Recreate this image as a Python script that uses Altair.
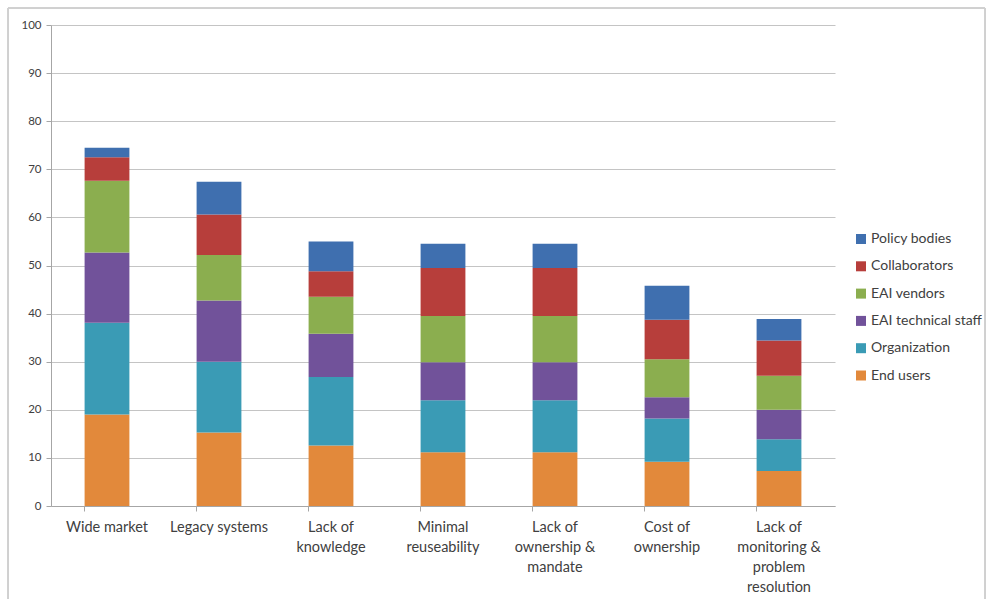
import altair as alt
import pandas as pd

categories = [
    "Wide market",
    "Legacy systems",
    "Lack of\nknowledge",
    "Minimal\nreuseability",
    "Lack of\nownership &\nmandate",
    "Cost of\nownership",
    "Lack of\nmonitoring &\nproblem\nresolution",
]

# series listed bottom-to-top of each stack
series = ["End users", "Organization", "EAI technical staff", "EAI vendors", "Collaborators", "Policy bodies"]

end_users = [19.0, 15.3, 12.6, 11.2, 11.2, 9.2, 7.3]
organization = [19.1, 14.7, 14.2, 10.8, 10.8, 9.0, 6.6]
eai_technical_staff = [14.6, 12.7, 9.0, 7.9, 7.9, 4.4, 6.1]
eai_vendors = [14.9, 9.5, 7.7, 9.6, 9.6, 7.9, 7.1]
collaborators = [4.9, 8.4, 5.3, 10.0, 10.0, 8.2, 7.3]
policy_bodies = [2.0, 6.8, 6.2, 5.0, 5.0, 7.1, 4.5]

colors = {
    "Policy bodies": "#3F6FAF",
    "Collaborators": "#B73E3B",
    "EAI vendors": "#8BAE4F",
    "EAI technical staff": "#71529A",
    "Organization": "#3A9BB5",
    "End users": "#E2893B",
}

y_ticks = [0, 10, 20, 30, 40, 50, 60, 70, 80, 90, 100]

values = [end_users, organization, eai_technical_staff, eai_vendors, collaborators, policy_bodies]
rows = []
for si, (s, vals) in enumerate(zip(series, values)):
    for c, v in zip(categories, vals):
        rows.append({"category": c, "series": s, "value": v, "order": si})
df = pd.DataFrame(rows)

legend_order = list(reversed(series))

font = "Lato"

bars = alt.Chart(df).mark_bar().encode(
    x=alt.X(
        "category:N",
        sort=categories,
        title=None,
        scale=alt.Scale(paddingInner=0.6, paddingOuter=0.3),
        axis=alt.Axis(
            labelAngle=0,
            labelExpr="split(datum.label, '\\n')",
            labelFont=font,
            labelFontSize=14.5,
            labelColor="#404040",
            labelPadding=9,
            labelLineHeight=20,
            labelBaseline="top",
            domainColor="#a6a6a6",
            tickColor="#a6a6a6",
            tickSize=5,
            bandPosition=0,
            grid=False,
        ),
    ),
    y=alt.Y(
        "value:Q",
        stack="zero",
        title=None,
        scale=alt.Scale(domain=[0, 100], nice=False),
        axis=alt.Axis(
            values=y_ticks,
            labelFont=font,
            labelFontSize=11.5,
            labelColor="#404040",
            labelPadding=5,
            domainColor="#a6a6a6",
            tickColor="#a6a6a6",
            tickSize=5,
            gridColor="#c4c4c4",
            gridWidth=1,
        ),
    ),
    color=alt.Color(
        "series:N",
        scale=alt.Scale(domain=legend_order, range=[colors[s] for s in legend_order]),
        legend=alt.Legend(
            title=None,
            orient="none",
            legendX=803,
            legendY=207,
            symbolType="square",
            symbolSize=100,
            symbolStrokeWidth=0,
            labelFont=font,
            labelFontSize=14,
            labelColor="#404040",
            rowPadding=13.3,
            labelOffset=3,
        ),
    ),
    order=alt.Order("order:Q", sort="ascending"),
)

frame = alt.Chart(df).mark_rect(fill=None, stroke="#d0d0d0", strokeWidth=1).encode(
    x=alt.value(-43), x2=alt.value(934), y=alt.value(-17), y2=alt.value(700)
)

chart = alt.layer(frame, bars).properties(
    width=784,
    height=481,
    autosize=alt.AutoSizeParams(type="none"),
    padding={"left": 51, "top": 25, "right": 152, "bottom": 93},
    background="white",
).configure_view(stroke=None)

chart.save("out.html", embed_options={"renderer": "svg", "actions": False})
